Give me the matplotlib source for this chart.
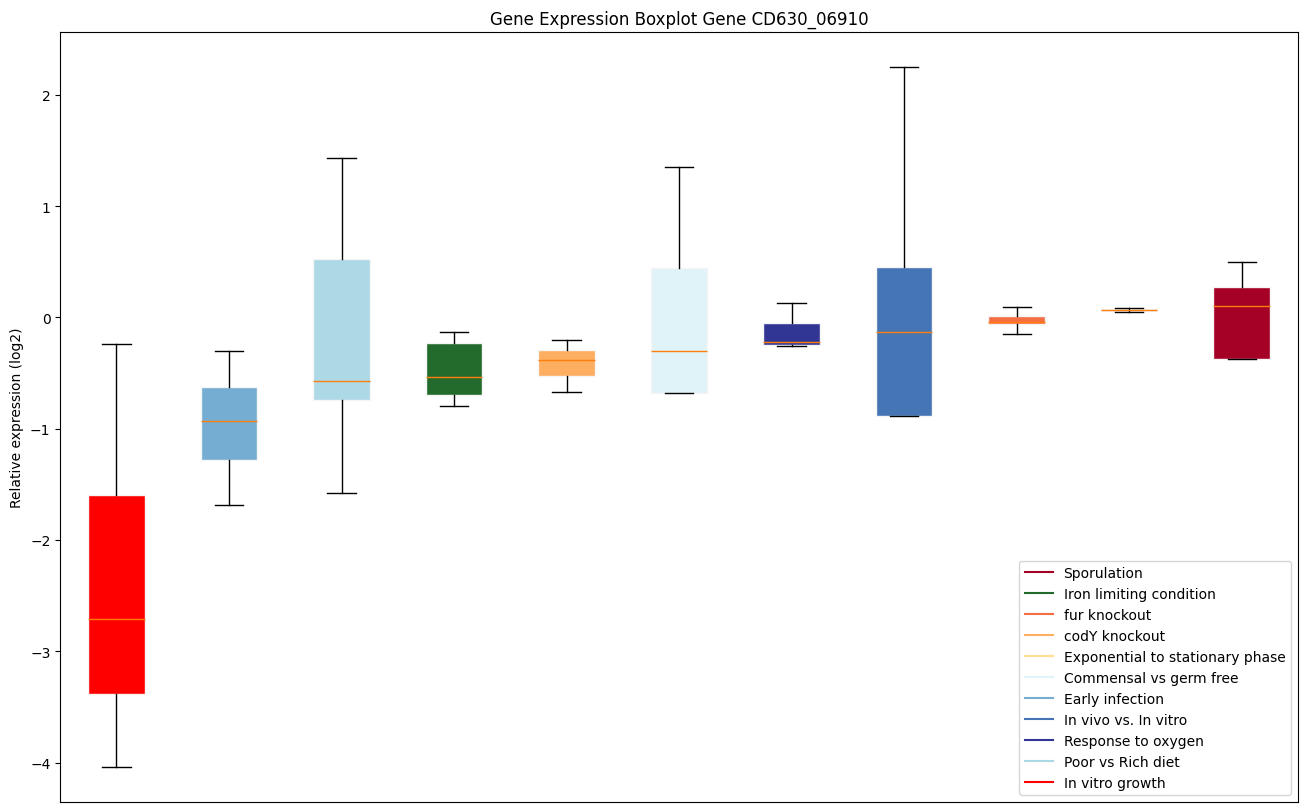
import matplotlib
matplotlib.use("Agg")
import matplotlib.pyplot as plt
from matplotlib.lines import Line2D

# conditions in plotting order (left to right)
conditions = ["In vitro growth", "Early infection", "Poor vs Rich diet",
              "Iron limiting condition", "codY knockout", "Commensal vs germ free",
              "Response to oxygen", "In vivo vs. In vitro", "fur knockout",
              "Exponential to stationary phase", "Sporulation"]
colors = ["#ff0000", "#74add1", "#add8e6", "#236b2d", "#fdae61", "#e0f3f8",
          "#313695", "#4575b4", "#f46d43", "#fee090", "#a50026"]

# box statistics (log2)
whislo = [-4.04, -1.69, -1.58, -0.80, -0.67, -0.68, -0.26, -0.89, -0.15, 0.05, -0.37]
q1 =     [-3.38, -1.28, -0.74, -0.70, -0.53, -0.68, -0.25, -0.89, -0.06, 0.06, -0.37]
med =    [-2.71, -0.93, -0.57, -0.54, -0.38, -0.30, -0.22, -0.13, -0.04, 0.07, 0.10]
q3 =     [-1.60, -0.63, 0.52, -0.23, -0.29, 0.44, -0.05, 0.45, 0.01, 0.075, 0.27]
whishi = [-0.24, -0.30, 1.43, -0.13, -0.20, 1.35, 0.13, 2.25, 0.09, 0.08, 0.50]

legend_order = ["Sporulation", "Iron limiting condition", "fur knockout", "codY knockout",
                "Exponential to stationary phase", "Commensal vs germ free", "Early infection",
                "In vivo vs. In vitro", "Response to oxygen", "Poor vs Rich diet",
                "In vitro growth"]

fig = plt.figure(figsize=(13.09, 8.12), dpi=100)
ax = fig.add_axes([0.046, 0.011, 0.9455, 0.9485])

stats = []
for i in range(len(conditions)):
    stats.append({"whislo": whislo[i], "q1": q1[i], "med": med[i],
                  "q3": q3[i], "whishi": whishi[i], "fliers": []})

bp = ax.bxp(stats, patch_artist=True, widths=0.5,
            boxprops=dict(linewidth=1, edgecolor="#f5f5f5"),
            medianprops=dict(color="#ff7f0e", linewidth=1))
for patch, c in zip(bp["boxes"], colors):
    patch.set_facecolor(c)

ax.set_xticks([])
ax.set_title("Gene Expression Boxplot Gene CD630_06910")
ax.set_ylabel("Relative expression (log2)")

handles = [Line2D([0], [0], color=colors[conditions.index(n)]) for n in legend_order]
ax.legend(handles, legend_order, loc="lower right")

fig.savefig("out.png", dpi=100)
